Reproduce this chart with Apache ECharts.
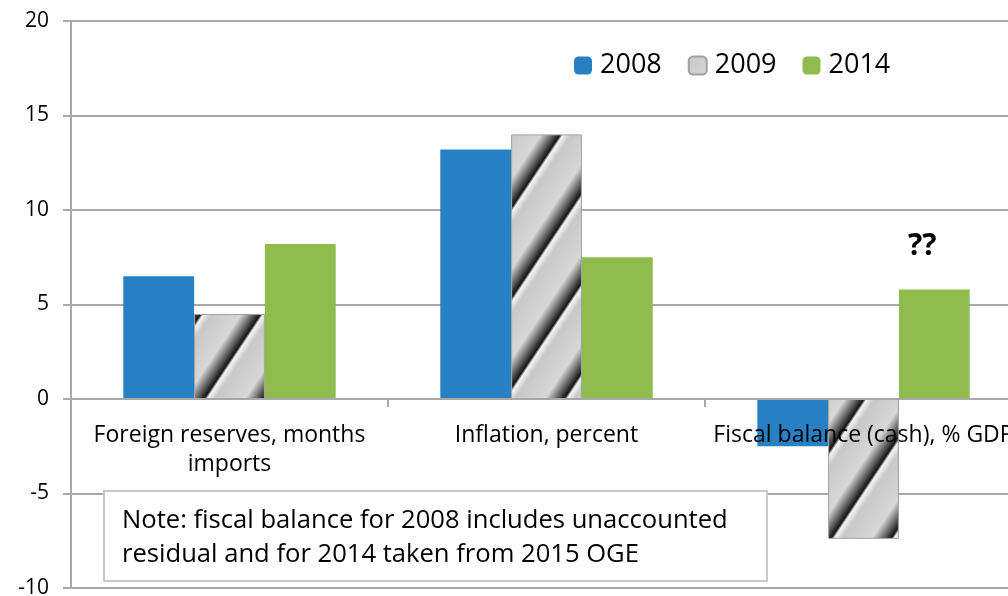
<!DOCTYPE html>
<html>
<head>
<meta charset="utf-8">
<script src="https://cdn.jsdelivr.net/npm/echarts@6/dist/echarts.min.js"></script>
<style>
html, body { margin: 0; padding: 0; background: #fff; }
#chart { width: 1008px; height: 596px; }
</style>
</head>
<body>
<div id="chart"></div>
<script>
var categories = ['Foreign reserves, months\nimports', 'Inflation, percent', 'Fiscal balance (cash), % GDP'];
var years = ['2008', '2009', '2014'];
var values2008 = [6.5, 13.2, -2.5];
var values2009 = [4.5, 14.0, -7.4];
var values2014 = [8.2, 7.5, 5.8];
var yMin = -10, yMax = 20, yStep = 5;
var noteLines = ['Note: fiscal balance for 2008 includes unaccounted', 'residual and for 2014 taken from 2015 OGE'];

var FONT = '"Open Sans", "Noto Sans", sans-serif';
var W = 1008, H = 596;
var gridTop = 21, gridBottom = 8;

// grey "metal" stripes for the 2009 bars
function makeStripes() {
    var w = 60, h = 90, P = 180;
    var cv = document.createElement('canvas');
    cv.width = w; cv.height = h;
    var ctx = cv.getContext('2d');
    var img = ctx.createImageData(w, h);
    for (var y = 0; y < h; y++) {
        for (var x = 0; x < w; x++) {
            var t = ((3 * x + 2 * y) % P) / P;
            var v;
            if (t < 0.5) v = 200 + 15 * (t / 0.5);
            else if (t < 0.82) v = 215 - 195 * ((t - 0.5) / 0.32);
            else if (t < 0.87) v = 20 + 225 * ((t - 0.82) / 0.05);
            else v = 245 - 45 * ((t - 0.87) / 0.13);
            var i = (y * w + x) * 4;
            img.data[i] = img.data[i + 1] = img.data[i + 2] = Math.round(v);
            img.data[i + 3] = 255;
        }
    }
    ctx.putImageData(img, 0, 0);
    return cv;
}

var chart = echarts.init(document.getElementById('chart'));
var stripes = { image: makeStripes(), repeat: 'repeat' };

// move the category axis (line + labels) up to y = 0
var plotH = H - gridTop - gridBottom;
var zeroOffset = -plotH * (0 - yMin) / (yMax - yMin);

var data2014 = values2014.map(function (v, i) {
    if (i == 2) {
        return {
            value: v,
            label: {
                show: true, position: 'top', distance: 28, offset: [-12, 0],
                formatter: '??', fontSize: 30, fontWeight: 'bold', color: '#000', fontFamily: FONT
            }
        };
    }
    return v;
});

var option = {
    animation: false,
    textStyle: { fontFamily: FONT },
    legend: {
        left: 569, top: 47,
        itemWidth: 18, itemHeight: 18, itemGap: 26,
        data: years,
        textStyle: { fontSize: 27, color: '#000', fontFamily: FONT, padding: [0, 0, 0, 3] }
    },
    grid: { left: 71, right: -14, top: gridTop, bottom: gridBottom, containLabel: false, outerBoundsMode: 'none' },
    xAxis: {
        type: 'category',
        data: categories,
        z: 5,
        position: 'bottom',
        offset: zeroOffset,
        axisLine: { onZero: false, lineStyle: { color: '#a8a8a8', width: 2 } },
        axisTick: { show: true, length: 8, lineStyle: { color: '#a8a8a8', width: 2 } },
        axisLabel: { interval: 0, fontSize: 23, color: '#000', lineHeight: 29, margin: 22, fontFamily: FONT, hideOverlap: false }
    },
    yAxis: {
        type: 'value',
        min: yMin, max: yMax, interval: yStep,
        axisLine: { show: true, lineStyle: { color: '#a8a8a8', width: 2 } },
        axisTick: { show: true, length: 8, lineStyle: { color: '#a8a8a8', width: 2 } },
        axisLabel: { fontSize: 21, color: '#000', margin: 22, fontFamily: FONT },
        splitLine: { lineStyle: { color: '#a8a8a8', width: 2 } }
    },
    series: [
        { name: '2008', type: 'bar', data: values2008, barGap: '0%', barCategoryGap: '33%',
          itemStyle: { color: '#2680c2' } },
        { name: '2009', type: 'bar', data: values2009,
          itemStyle: { color: stripes, borderColor: '#a0a0a0', borderWidth: 1 } },
        { name: '2014', type: 'bar', data: data2014,
          itemStyle: { color: '#8fbb4f' } }
    ],
    graphic: [
        { type: 'rect', left: 103, top: 490, z: 10,
          shape: { width: 663, height: 90 },
          style: { fill: '#fff', stroke: '#c8c8c8', lineWidth: 2 } },
        { type: 'text', left: 122, top: 504, z: 11,
          style: { text: noteLines.join('\n'), font: '25.6px ' + FONT, fill: '#000', lineHeight: 34 } }
    ]
};
chart.setOption(option);
</script>
</body>
</html>
